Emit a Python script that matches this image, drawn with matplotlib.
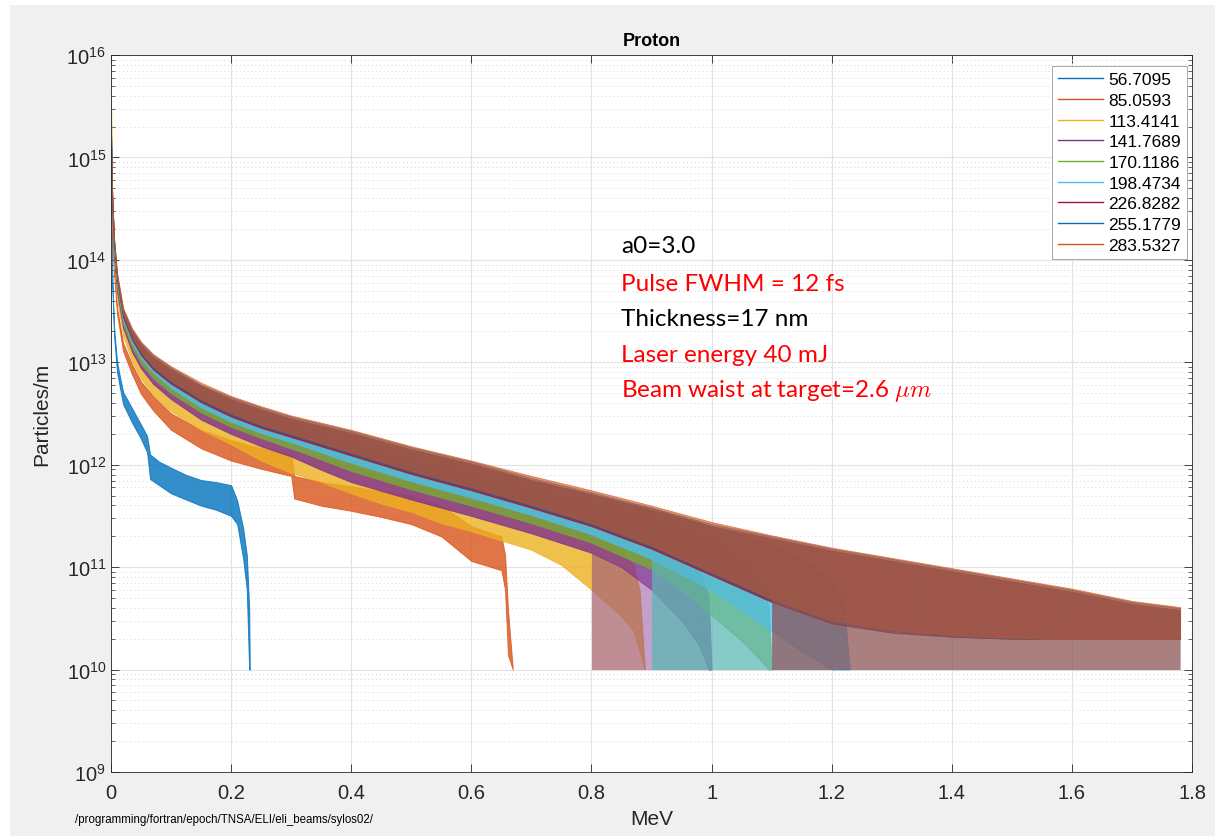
import numpy as np
import matplotlib
matplotlib.use("Agg")
import matplotlib.pyplot as plt
from matplotlib.lines import Line2D
from matplotlib.patches import Rectangle
from matplotlib.ticker import FixedLocator, NullFormatter

# MATLAB default colour order (repeats after 7)
series_labels = ["56.7095", "85.0593", "113.4141", "141.7689", "170.1186",
                 "198.4734", "226.8282", "255.1779", "283.5327"]
series_colors = ["#0072BD", "#D95319", "#EDB120", "#7E2F8E", "#77AC30",
                 "#4DBEEE", "#A2142F", "#0072BD", "#D95319"]

# Energies (MeV) and noise envelopes (log10 of particles/m)
e_56 = [0, 0.002, 0.005, 0.01, 0.02, 0.035, 0.05, 0.06, 0.065, 0.08, 0.1, 0.125, 0.15, 0.175, 0.2, 0.21, 0.22, 0.226, 0.23, 0.231]
up_56 = [15.0, 13.83, 13.34, 13.0, 12.71, 12.55, 12.39, 12.28, 12.1, 12.03, 11.97, 11.9, 11.85, 11.83, 11.8, 11.65, 11.38, 11.12, 10.6, 10.0]
lo_56 = [15.0, 13.77, 13.26, 12.9, 12.59, 12.41, 12.25, 12.12, 11.86, 11.8, 11.72, 11.66, 11.6, 11.56, 11.5, 11.42, 11.08, 10.78, 10.0, 10.0]

e_85 = [0, 0.002, 0.005, 0.01, 0.02, 0.035, 0.05, 0.07, 0.1, 0.15, 0.2, 0.25, 0.3, 0.305, 0.35, 0.4, 0.45, 0.5, 0.55, 0.6, 0.65, 0.656, 0.661, 0.669]
up_85 = [15.2, 14.32, 13.92, 13.53, 13.19, 12.98, 12.81, 12.67, 12.5, 12.34, 12.24, 12.16, 12.11, 11.89, 11.83, 11.79, 11.74, 11.7, 11.6, 11.4, 11.3, 11.12, 10.58, 10.0]
lo_85 = [15.2, 14.28, 13.88, 13.47, 13.11, 12.88, 12.69, 12.53, 12.34, 12.16, 12.04, 11.96, 11.89, 11.67, 11.6, 11.55, 11.49, 11.42, 11.3, 11.06, 10.97, 10.78, 10.14, 10.0]

e_113 = [0, 0.002, 0.005, 0.01, 0.02, 0.035, 0.05, 0.07, 0.1, 0.15, 0.2, 0.25, 0.3, 0.35, 0.4, 0.45, 0.5, 0.55, 0.6, 0.65, 0.7, 0.75, 0.8, 0.85, 0.87, 0.88, 0.889]
up_113 = [15.5, 14.42, 14.02, 13.68, 13.34, 13.11, 12.96, 12.82, 12.68, 12.52, 12.4, 12.26, 12.14, 12.07, 11.98, 11.9, 11.82, 11.73, 11.65, 11.58, 11.5, 11.43, 11.3, 11.17, 11.02, 10.78, 10.0]
lo_113 = [15.5, 14.38, 13.98, 13.62, 13.26, 13.01, 12.84, 12.68, 12.52, 12.34, 12.2, 12.04, 11.92, 11.83, 11.72, 11.62, 11.54, 11.43, 11.35, 11.26, 11.17, 11.02, 10.78, 10.52, 10.38, 10.18, 10.0]

e_141 = [0, 0.002, 0.005, 0.01, 0.02, 0.035, 0.05, 0.07, 0.1, 0.15, 0.2, 0.25, 0.3, 0.35, 0.4, 0.5, 0.6, 0.7, 0.8, 0.85, 0.9, 0.95, 0.98, 0.995, 1.0]
up_141 = [15.2, 14.47, 14.07, 13.75, 13.42, 13.2, 13.06, 12.93, 12.8, 12.62, 12.5, 12.4, 12.3, 12.19, 12.09, 11.94, 11.8, 11.66, 11.53, 11.44, 11.3, 11.1, 10.97, 10.72, 10.0]
lo_141 = [15.2, 14.43, 14.03, 13.69, 13.34, 13.1, 12.94, 12.79, 12.64, 12.44, 12.3, 12.18, 12.08, 11.95, 11.83, 11.66, 11.5, 11.33, 11.14, 11.0, 10.78, 10.48, 10.23, 10.0, 10.0]

e_170 = [0, 0.002, 0.005, 0.01, 0.02, 0.035, 0.05, 0.07, 0.1, 0.15, 0.2, 0.25, 0.3, 0.35, 0.4, 0.5, 0.6, 0.7, 0.8, 0.9, 0.95, 1.0, 1.05, 1.08, 1.095, 1.1]
up_170 = [15.2, 14.52, 14.12, 13.8, 13.46, 13.25, 13.11, 12.99, 12.86, 12.69, 12.57, 12.48, 12.38, 12.29, 12.2, 12.04, 11.9, 11.76, 11.63, 11.5, 11.4, 11.27, 11.07, 10.87, 10.62, 10.0]
lo_170 = [15.2, 14.48, 14.08, 13.74, 13.38, 13.15, 12.99, 12.85, 12.7, 12.51, 12.37, 12.26, 12.16, 12.05, 11.94, 11.76, 11.6, 11.43, 11.24, 10.98, 10.78, 10.53, 10.28, 10.1, 10.0, 10.0]

e_198 = [0, 0.002, 0.005, 0.01, 0.02, 0.035, 0.05, 0.07, 0.1, 0.15, 0.2, 0.25, 0.3, 0.35, 0.4, 0.5, 0.6, 0.7, 0.8, 0.9, 1.0, 1.1, 1.15, 1.2, 1.22, 1.23]
up_198 = [15.2, 14.57, 14.17, 13.83, 13.49, 13.29, 13.16, 13.04, 12.91, 12.74, 12.62, 12.53, 12.44, 12.36, 12.28, 12.12, 11.98, 11.84, 11.71, 11.58, 11.4, 11.22, 11.07, 10.87, 10.67, 10.0]
lo_198 = [15.2, 14.53, 14.13, 13.77, 13.41, 13.19, 13.04, 12.9, 12.75, 12.56, 12.42, 12.31, 12.22, 12.12, 12.02, 11.84, 11.68, 11.51, 11.32, 11.08, 10.78, 10.38, 10.18, 10.0, 10.0, 10.0]

e_226 = [0, 0.002, 0.005, 0.01, 0.02, 0.035, 0.05, 0.07, 0.1, 0.15, 0.2, 0.25, 0.3, 0.35, 0.4, 0.5, 0.6, 0.7, 0.8, 0.9, 1.0, 1.1, 1.2, 1.3, 1.4, 1.5, 1.6, 1.7, 1.78]
up_226 = [15.1, 14.58, 14.18, 13.84, 13.5, 13.3, 13.17, 13.05, 12.93, 12.77, 12.64, 12.54, 12.45, 12.38, 12.31, 12.15, 12.01, 11.85, 11.71, 11.56, 11.4, 11.28, 11.16, 11.06, 10.96, 10.86, 10.76, 10.64, 10.58]
lo_226 = [15.1, 14.56, 14.16, 13.8, 13.44, 13.22, 13.07, 12.93, 12.79, 12.61, 12.47, 12.36, 12.27, 12.18, 12.09, 11.91, 11.75, 11.58, 11.4, 11.18, 10.92, 10.66, 10.45, 10.36, 10.32, 10.3, 10.3, 10.3, 10.3]

e_255 = [0, 0.002, 0.005, 0.01, 0.02, 0.035, 0.05, 0.07, 0.1, 0.15, 0.2, 0.25, 0.3, 0.35, 0.4, 0.5, 0.6, 0.7, 0.8, 0.9, 1.0, 1.1, 1.2, 1.3, 1.4, 1.5, 1.6, 1.7, 1.78]
up_255 = [15.1, 14.6, 14.2, 13.86, 13.52, 13.32, 13.19, 13.07, 12.95, 12.78, 12.66, 12.56, 12.47, 12.4, 12.33, 12.17, 12.03, 11.87, 11.73, 11.58, 11.42, 11.3, 11.18, 11.08, 10.98, 10.88, 10.78, 10.66, 10.6]
lo_255 = [15.1, 14.58, 14.18, 13.82, 13.46, 13.24, 13.09, 12.95, 12.81, 12.63, 12.49, 12.38, 12.29, 12.2, 12.11, 11.93, 11.77, 11.6, 11.42, 11.2, 10.94, 10.68, 10.47, 10.38, 10.33, 10.3, 10.3, 10.3, 10.3]

e_283 = [0, 0.002, 0.005, 0.01, 0.02, 0.035, 0.05, 0.07, 0.1, 0.15, 0.2, 0.25, 0.3, 0.35, 0.4, 0.5, 0.6, 0.7, 0.8, 0.9, 1.0, 1.1, 1.2, 1.3, 1.4, 1.5, 1.6, 1.7, 1.78]
up_283 = [15.1, 14.61, 14.21, 13.87, 13.53, 13.33, 13.2, 13.08, 12.96, 12.8, 12.67, 12.57, 12.48, 12.41, 12.34, 12.18, 12.04, 11.89, 11.75, 11.6, 11.44, 11.31, 11.19, 11.09, 10.99, 10.89, 10.79, 10.67, 10.61]
lo_283 = [15.1, 14.59, 14.19, 13.83, 13.47, 13.25, 13.1, 12.96, 12.82, 12.64, 12.5, 12.39, 12.3, 12.21, 12.12, 11.94, 11.78, 11.61, 11.43, 11.21, 10.95, 10.69, 10.48, 10.39, 10.34, 10.31, 10.3, 10.3, 10.3]

# energy above which single-count spikes reach the 1e10 floor
spike_start = [None, None, 0.78, 0.8, 0.85, 0.9, 1.1, 1.1, 1.1]
spike_alpha = [0, 0, 0.45, 0.45, 0.45, 0.5, 0.35, 0.35, 0.35]
band_alpha = [0.8, 0.8, 0.8, 0.8, 0.8, 0.8, 0.8, 0.6, 0.6]
floor_level = 1e10

energies = [e_56, e_85, e_113, e_141, e_170, e_198, e_226, e_255, e_283]
uppers = [up_56, up_85, up_113, up_141, up_170, up_198, up_226, up_255, up_283]
lowers = [lo_56, lo_85, lo_113, lo_141, lo_170, lo_198, lo_226, lo_255, lo_283]

x_ticks = [0, 0.2, 0.4, 0.6, 0.8, 1.0, 1.2, 1.4, 1.6, 1.8]
x_ticklabels = ["0", "0.2", "0.4", "0.6", "0.8", "1", "1.2", "1.4", "1.6", "1.8"]
y_decades = [9, 10, 11, 12, 13, 14, 15, 16]

annot_lines = ["a0=3.0", "Pulse FWHM = 12 fs", "Thickness=17 nm",
               "Laser energy 40 mJ", r"Beam waist at target=2.6 $\mu m$"]
annot_colors = ["black", "#ff0000", "black", "#ff0000", "#ff0000"]
annot_y = [0.734, 0.681, 0.632, 0.582, 0.533]

plt.rcParams['mathtext.fontset'] = 'cm'
plt.rcParams['font.family'] = ['Liberation Sans', 'DejaVu Sans']

fig = plt.figure(figsize=(12.15, 8.37), dpi=100, facecolor='#f0f0f0')
# thin white margin at top and left, as in the exported MATLAB figure
fig.patches.append(Rectangle((0, 1 - 6 / 837), 1, 6 / 837, transform=fig.transFigure,
                             facecolor='white', edgecolor='none', zorder=-1))
fig.patches.append(Rectangle((0, 0), 10 / 1215, 1, transform=fig.transFigure,
                             facecolor='white', edgecolor='none', zorder=-1))
ax = fig.add_axes([0.0914, 0.0765, 0.8897, 0.8566])
ax.set_facecolor('white')

for i in range(len(series_labels)):
    e = np.array(energies[i])
    up = np.power(10.0, uppers[i])
    lo = np.power(10.0, lowers[i])
    c = series_colors[i]
    if spike_start[i] is not None:
        m = e >= spike_start[i]
        ax.fill_between(e[m], floor_level, lo[m], color=c, alpha=spike_alpha[i], linewidth=0)
    ax.fill_between(e, lo, up, color=c, alpha=band_alpha[i], linewidth=0.7, edgecolor=c)

ax.set_yscale('log')
ax.set_xlim(0, 1.8)
ax.set_ylim(1e9, 1e16)
ax.xaxis.set_major_locator(FixedLocator(x_ticks))
ax.set_xticklabels(x_ticklabels)
major_y = [10.0 ** d for d in y_decades]
minor_y = [k * 10.0 ** d for d in y_decades[:-1] for k in range(2, 10)]
ax.yaxis.set_major_locator(FixedLocator(major_y))
ax.yaxis.set_minor_locator(FixedLocator(minor_y))
ax.set_yticklabels([r"$\mathdefault{10^{%d}}$" % d for d in y_decades])
ax.yaxis.set_minor_formatter(NullFormatter())

ax.grid(True, which='major', axis='both', color='#e3e3e3', linewidth=0.8)
ax.grid(True, which='minor', axis='y', color='#d8d8d8', linestyle=(0, (1, 3)), linewidth=0.7)
ax.set_axisbelow(True)

ax.tick_params(which='both', direction='in', top=True, right=True, colors='#262626', labelsize=14.5)
ax.tick_params(which='major', length=6, width=0.6)
ax.tick_params(which='minor', length=3, width=0.5)
ax.tick_params(axis='x', pad=8)
for s in ax.spines.values():
    s.set_color('#262626')
    s.set_linewidth(0.6)

ax.set_title("Proton", fontsize=13, fontweight='bold', pad=7)
ax.set_xlabel("MeV", fontsize=15, color='#262626')
ax.xaxis.set_label_coords(0.5, -0.052)
ax.set_ylabel("Particles/m", fontsize=15, color='#262626')
ax.yaxis.set_label_coords(-0.055, 0.5)

handles = [Line2D([0], [0], color=c, lw=1) for c in series_colors]
leg = ax.legend(handles, series_labels, loc='upper right',
                bbox_to_anchor=(1 - 5 / 1080, 1 - 11 / 717), borderaxespad=0,
                fontsize=12.5, frameon=True, fancybox=False, framealpha=1,
                edgecolor='#999999', handlelength=2.6, labelspacing=0.32,
                handletextpad=0.3, borderpad=0.35)
leg.get_frame().set_linewidth(0.6)

for txt, col, yp in zip(annot_lines, annot_colors, annot_y):
    ax.text(0.472, yp, txt, transform=ax.transAxes, color=col, fontsize=17.5,
            family=['Lato', 'DejaVu Sans'], va='center', ha='left')

fig.text(75 / 1215, 1 - 820 / 837, "/programming/fortran/epoch/TNSA/ELI/eli_beams/sylos02/",
         fontsize=8.3, va='center', ha='left', color='black')

fig.savefig("out.png", dpi=100, facecolor=fig.get_facecolor())
